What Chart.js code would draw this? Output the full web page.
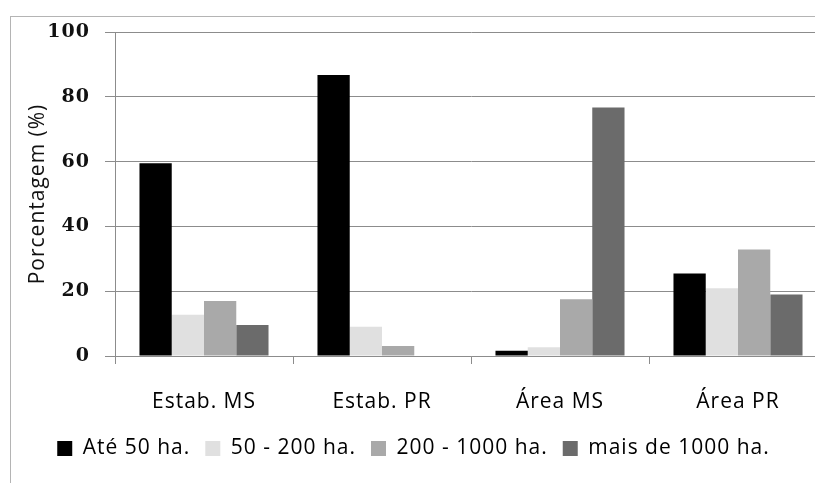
<!DOCTYPE html>
<html>
<head>
<meta charset="utf-8">
<script src="https://cdn.jsdelivr.net/npm/chart.js@4"></script>
<style>
  html, body { margin: 0; padding: 0; background: #fff; overflow: hidden; }
  #frame {
    position: absolute; left: 10px; top: 16px;
    width: 900px; height: 600px;
    border: 1px solid #b4b4b4;
  }
  #chart { position: absolute; left: 0; top: 0; }
</style>
</head>
<body>
<div id="frame"></div>
<canvas id="chart" width="840" height="483"></canvas>
<script>
// Data
const categories = ["Estab. MS", "Estab. PR", "Área MS", "Área PR"];
const seriesNames = ["Até 50 ha.", "50 - 200 ha.", "200 - 1000 ha.", "mais de 1000 ha."];
const ate50 = [59.5, 86.7, 1.6, 25.5];
const de50a200 = [12.7, 9.0, 2.7, 20.9];
const de200a1000 = [17.0, 3.1, 17.5, 32.9];
const mais1000 = [9.6, 0, 76.7, 19.0];
const yTicks = [0, 20, 40, 60, 80, 100];

const barColors = ["#000000", "#e0e0e0", "#a9a9a9", "#6b6b6b"];
const GRID = "#8c8c8c";
const SANS = "'Open Sans', sans-serif";

// canvas letter spacing (Chart.js has no option for it)
const spacingPlugin = {
  id: "spacing",
  beforeLayout(chart) { chart.ctx.letterSpacing = "1px"; },
  beforeDraw(chart) { chart.ctx.letterSpacing = "1px"; },
};

function dataset(i, values) {
  return {
    label: seriesNames[i],
    data: values,
    backgroundColor: barColors[i],
    borderWidth: 0,
    categoryPercentage: 0.725,
    barPercentage: 1,
  };
}

new Chart(document.getElementById("chart"), {
  type: "bar",
  data: {
    labels: categories,
    datasets: [
      dataset(0, ate50),
      dataset(1, de50a200),
      dataset(2, de200a1000),
      dataset(3, mais1000),
    ],
  },
  plugins: [spacingPlugin],
  options: {
    responsive: false,
    animation: false,
    devicePixelRatio: 1,
    layout: { padding: { left: 0, top: 32, right: 13, bottom: 14 } },
    plugins: {
      tooltip: { enabled: false },
      legend: {
        position: "bottom",
        labels: {
          boxWidth: 15,
          boxHeight: 15,
          padding: 15,
          color: "#000",
          font: { family: SANS, size: 21 },
        },
      },
    },
    scales: {
      x: {
        grid: {
          display: true,
          drawOnChartArea: false,
          drawTicks: true,
          tickLength: 8,
          color: GRID,
          offset: true,
        },
        border: { color: GRID },
        ticks: { color: "#000", padding: 25, font: { family: SANS, size: 21 } },
        afterFit(scale) { scale.height = 67; },
      },
      y: {
        min: 0,
        max: 100,
        afterBuildTicks(scale) { scale.ticks = yTicks.map(v => ({ value: v })); },
        grid: { color: GRID, tickLength: 10 },
        border: { color: GRID },
        ticks: {
          color: "#111",
          padding: 15,
          font: { family: "'DejaVu Serif', serif", size: 19, weight: "bold" },
        },
        title: {
          display: true,
          text: "Porcentagem (%)",
          color: "#111",
          padding: { top: 25, bottom: 0 },
          font: { family: SANS, size: 21 },
        },
        afterFit(scale) { scale.width = 115; },
      },
    },
  },
});
</script>
</body>
</html>
